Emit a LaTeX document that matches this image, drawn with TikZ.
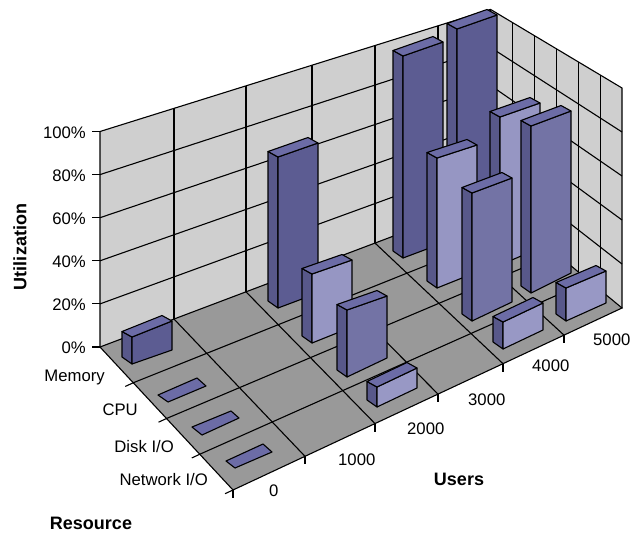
\documentclass[tikz,border=0pt]{standalone}
\usepackage{fontspec}
\setmainfont{Liberation Sans}
\definecolor{wallgray}{RGB}{207,207,207}
\definecolor{floorgray}{RGB}{153,153,153}
\definecolor{barside}{RGB}{88,88,138}
\definecolor{bartop}{RGB}{108,108,166}
\definecolor{memfront}{RGB}{92,92,146}
\definecolor{cpufront}{RGB}{150,150,195}
\definecolor{diskfront}{RGB}{115,115,165}
\definecolor{netfront}{RGB}{152,152,197}
% one 3-D column: #1 x of front-left edge, #2 its bottom y, #3 its top y,
% #4 / #5 rise of the top / bottom front edge over the column width, #6 front colour
\newcommand{\colbar}[6]{%
  \filldraw[barline, fill=barside] ({#1-10},{#2-7}) -- (#1,#2) -- (#1,#3) -- ({#1-10},{#3-5.5}) -- cycle;
  \filldraw[barline, fill=#6] (#1,#2) -- ({#1+40},{#2+#5}) -- ({#1+40},{#3+#4}) -- (#1,#3) -- cycle;
  \filldraw[barline, fill=bartop] (#1,#3) -- ({#1+40},{#3+#4}) -- ({#1+30},{#3+#4-5.5}) -- ({#1-10},{#3-5.5}) -- cycle;
}
% a zero-height column: only its top face
\newcommand{\flatbar}[8]{%
  \filldraw[barline, fill=bartop] (#1,#2) -- (#3,#4) -- (#5,#6) -- (#7,#8) -- cycle;
}
\begin{document}
\begin{tikzpicture}[x=1pt, y=-1pt,
  grid/.style={line width=1.1pt, black},
  barline/.style={line width=1.1pt, black, line join=round},
  ticklbl/.style={font=\fontsize{16.7}{20}\selectfont, inner sep=0pt},
  axttl/.style={font=\fontsize{18}{21}\selectfont\bfseries, inner sep=0pt}]
\useasboundingbox (0,0) rectangle (639,533);

% ---- walls ----
\fill[wallgray] (100,347) -- (100,131.5) -- (490.5,9.4) -- (490.5,199.4) -- cycle;
\fill[wallgray] (490.5,9.4) -- (622,88) -- (622,308) -- (490.5,199.4) -- cycle;
% back wall grid
\foreach \k in {1,...,4}
  \draw[grid] (100,{347-43.1*\k}) -- (490.5,{199.4-38*\k});
\foreach \gx in {174,246,312,375,438}
  \draw[grid] (\gx,{347-0.37798*(\gx-100)}) -- (\gx,{131.5-0.31268*(\gx-100)});
% side wall grid
\foreach \k in {1,...,4}
  \draw[grid] (490.5,{199.4-38*\k}) -- (622,{308-44*\k});
\foreach \k in {1,...,5}{
  \pgfmathsetmacro{\gx}{490.5+21.9167*\k}
  \draw[grid] (\gx,{199.4+0.8259*(\gx-490.5)}) -- (\gx,{9.4+0.5977*(\gx-490.5)});
}
\draw[grid] (490.5,9.4) -- (490.5,199.4);
\draw[grid] (100,347) -- (100,131.5) -- (490.5,9.4) -- (622,88) -- (622,308);

% ---- floor ----
\fill[floorgray] (100,347) -- (490.5,199.4) -- (622,308) -- (233,490) -- cycle;
\foreach \bx/\fx in {174/305, 246/375, 312/438, 375/503, 438/564}
  \draw[grid] (\bx,{347-0.37798*(\bx-100)}) -- (\fx,{490-0.46787*(\fx-233)});
\foreach \j in {1,2,3}
  \draw[grid] ({100+33.25*\j},{347+35.75*\j}) -- ({490.5+32.875*\j},{199.4+27.15*\j});
\draw[grid] (100,347) -- (490.5,199.4) -- (622,308) -- (233,490) -- cycle;

% ---- ticks ----
\foreach \k in {0,...,5}
  \draw[grid] (92,{347-43.1*\k}) -- (100,{347-43.1*\k});
\foreach \fx in {233,305,375,438,503,564}
  \draw[grid] (\fx,{490-0.46787*(\fx-233)}) -- (\fx,{498-0.46787*(\fx-233)});
\foreach \j in {1,...,4}
  \draw[grid] ({100+33.25*\j},{347+35.75*\j}) -- ({92+33.25*\j},{350.7+35.75*\j});

% ---- columns, back row first ----
% Memory
\colbar{457}{237}{29}{-14}{-15}{memfront}
\colbar{403}{258}{56}{-14}{-15}{memfront}
\colbar{278}{308}{157}{-14}{-15}{memfront}
\colbar{132}{364}{337}{-16}{-14}{memfront}
% CPU
\colbar{500}{265}{117}{-14}{-17}{cpufront}
\colbar{437}{288}{158}{-13}{-16}{cpufront}
\colbar{312}{343}{274}{-14}{-16}{cpufront}
\flatbar{158}{395}{168}{402}{206}{386}{197}{378}
% Disk I/O
\colbar{531}{293}{126}{-15}{-20}{diskfront}
\colbar{472}{321}{193}{-15}{-19}{diskfront}
\colbar{347}{377}{310}{-14}{-19}{diskfront}
\flatbar{192}{427}{202}{435}{239}{418}{231}{411}
% Network I/O
\colbar{566}{321}{288}{-17}{-18}{netfront}
\colbar{503}{349}{322}{-19}{-19}{netfront}
\colbar{377}{407}{387}{-19}{-19}{netfront}
\flatbar{226}{461}{235}{468}{272}{452}{263}{444}

% ---- labels ----
\node[ticklbl, anchor=east] (v100) at (86,133) {100\%};
\node[ticklbl, anchor=east] (v80) at (86,175.5) {80\%};
\node[ticklbl, anchor=east] (v60) at (86,218.5) {60\%};
\node[ticklbl, anchor=east] (v40) at (86,261.5) {40\%};
\node[ticklbl, anchor=east] (v20) at (86,304.5) {20\%};
\node[ticklbl, anchor=east] (v0) at (86,347.5) {0\%};

\node[ticklbl, anchor=east] (rmem) at (105,377) {Memory};
\node[ticklbl, anchor=east] (rcpu) at (138,410) {CPU};
\node[ticklbl, anchor=east] (rdisk) at (174,447) {Disk I/O};
\node[ticklbl, anchor=east] (rnet) at (208,480) {Network I/O};

\node[ticklbl, anchor=west] (u0) at (269,491) {0};
\node[ticklbl, anchor=west] (u1) at (338,460) {1000};
\node[ticklbl, anchor=west] (u2) at (407,428.5) {2000};
\node[ticklbl, anchor=west] (u3) at (468,400) {3000};
\node[ticklbl, anchor=west] (u4) at (532,366) {4000};
\node[ticklbl, anchor=west] (u5) at (593,340) {5000};

\node[axttl, rotate=90] (ttlutil) at (20,247) {Utilization};
\node[axttl] (ttlres) at (91,523) {Resource};
\node[axttl] (ttlusers) at (459,479.5) {Users};
\end{tikzpicture}
\end{document}
